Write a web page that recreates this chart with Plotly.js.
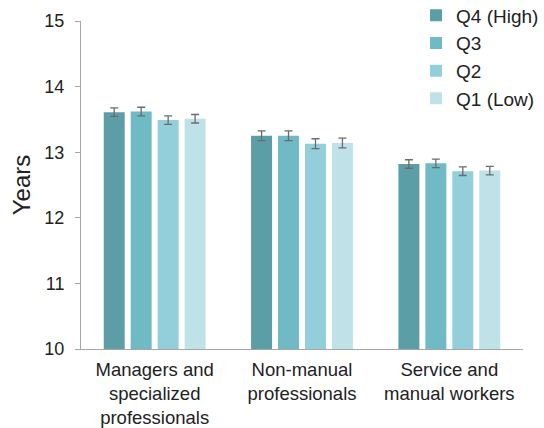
<!DOCTYPE html>
<html>
<head>
<meta charset="utf-8">
<script src="https://cdn.plot.ly/plotly-3.0.1.min.js"></script>
<style>
  html, body { margin: 0; padding: 0; background: #fff; }
  #chart { width: 544px; height: 428px; }
</style>
</head>
<body>
<div id="chart"></div>
<script>
// Occupational groups along the x axis
const categories = [
  'Managers and<br>specialized<br>professionals',
  'Non-manual<br>professionals',
  'Service and<br>manual workers'
];

// Mean years of schooling by income quartile
const q4High = [13.61, 13.25, 12.82];
const q3 = [13.62, 13.25, 12.83];
const q2 = [13.49, 13.13, 12.71];
const q1Low = [13.51, 13.14, 12.72];

// Error bar half-widths (years)
const errQ4 = [0.065, 0.075, 0.065];
const errQ3 = [0.065, 0.075, 0.065];
const errQ2 = [0.065, 0.075, 0.065];
const errQ1 = [0.065, 0.075, 0.065];

const seriesNames = ['Q4 (High)', 'Q3', 'Q2', 'Q1 (Low)'];
const seriesValues = [q4High, q3, q2, q1Low];
const seriesErrors = [errQ4, errQ3, errQ2, errQ1];
const seriesColors = ['#5B9EA6', '#6FBAC4', '#93CFDA', '#BFE2E9'];

const yTicks = [10, 11, 12, 13, 14, 15];

const font = 'Liberation Sans, Arial, sans-serif';

const traces = seriesNames.map((name, i) => ({
  type: 'bar',
  name: name,
  x: categories,
  y: seriesValues[i],
  marker: { color: seriesColors[i], line: { width: 0 } },
  error_y: {
    type: 'data',
    array: seriesErrors[i],
    visible: true,
    color: '#6b6b6b',
    thickness: 1.3,
    width: 4
  },
  hoverinfo: 'x+y+name'
}));

const layout = {
  width: 544,
  height: 428,
  margin: { l: 81, r: 21, t: 21, b: 79, autoexpand: false },
  paper_bgcolor: '#ffffff',
  plot_bgcolor: '#ffffff',
  font: { family: font, size: 18, color: '#222222' },
  barmode: 'group',
  bargap: 0.268,
  bargroupgap: 0.222,
  showlegend: true,
  legend: {
    x: 0.758,
    xanchor: 'left',
    y: 1.075,
    yanchor: 'top',
    font: { family: font, size: 19, color: '#222222' },
    bgcolor: 'rgba(0,0,0,0)',
    traceorder: 'normal',
    itemsizing: 'constant'
  },
  xaxis: {
    showline: true,
    linecolor: '#a6a6a6',
    linewidth: 1,
    ticks: '',
    showgrid: false,
    zeroline: false,
    ticklabelstandoff: 4,
    tickfont: { family: font, size: 18.5, color: '#222222' },
    fixedrange: true
  },
  yaxis: {
    range: [10, 15],
    tickvals: yTicks,
    ticktext: yTicks.map(String),
    showline: true,
    linecolor: '#a6a6a6',
    linewidth: 1,
    ticks: 'outside',
    ticklen: 5,
    tickcolor: '#a6a6a6',
    ticklabelstandoff: 7,
    showgrid: false,
    zeroline: false,
    tickfont: { family: font, size: 18, color: '#222222' },
    title: { text: 'Years', font: { family: font, size: 24, color: '#222222' }, standoff: 6 },
    fixedrange: true
  }
};

Plotly.newPlot('chart', traces, layout, { displayModeBar: false, staticPlot: true });
</script>
</body>
</html>
